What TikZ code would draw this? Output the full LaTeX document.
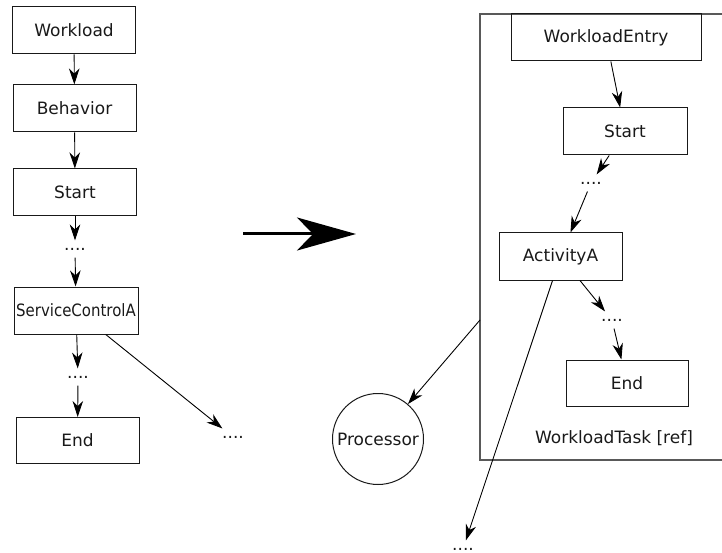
\documentclass[tikz,border=0pt]{standalone}
\usepackage{fontspec}
\setmainfont{DejaVu Sans}
\usetikzlibrary{arrows.meta}
\begin{document}
\begin{tikzpicture}[x=1pt,y=-1pt,
  every node/.style={font=\fontsize{17}{20}\selectfont,text=black!90},
  box/.style={draw=black!90,line width=1pt,minimum width=#1,minimum height=47pt,inner sep=0pt},
  box/.default=123pt,
  dots/.style={inner sep=0pt,outer sep=7.5pt},
  conn/.style={line width=0.9pt,-{Stealth[length=16pt,width=10.5pt,inset=5pt]}},
  frame/.style={draw=black!65,line width=1.3pt}]
\useasboundingbox (0,0) rectangle (722,553);

% left-hand chain
\node[box] (wl) at (74,30.5) {Workload};
\node[box] (beh) at (74.5,108.5) {Behavior};
\node[box] (st) at (75,192.5) {Start};
\node[dots] (d1) at (75,249) {....};
\node[box=124pt] (sc) at (76,310.5) {\scalebox{0.88}[1]{ServiceControlA}};
\node[dots] (d2) at (78,377) {....};
\node[box,minimum height=46pt] (en) at (77.5,440.5) {End};
\node[dots] (d3) at (233,437) {....};

\draw[conn] (wl) -- (beh);
\draw[conn] (beh) -- (st);
\draw[conn] (st) -- (d1);
\draw[conn] (d1) -- (sc);
\draw[conn] (sc) -- (d2);
\draw[conn] (d2) -- (en);
\draw[conn] (sc) -- (d3);

% transformation arrow
\coordinate (ta) at (243,234);
\coordinate (tb) at (356,234);
\draw[line width=3pt,-{Stealth[length=59pt,width=33pt,inset=16pt]}] (ta) -- (tb);

% task frame and its contents
\draw[frame] (730,14) -- (480,14) -- (480,460) -- (730,460);
\node[box=190pt] (we) at (606,37.5) {WorkloadEntry};
\node[box=124pt] (rs) at (625,131.5) {Start};
\node[dots] (rd1) at (591,183) {....};
\node[box] (ra) at (560.5,256.5) {ActivityA};
\node[dots] (rd2) at (612,320) {....};
\node[box=122pt,minimum height=46pt] (ren) at (627,383) {End};
\node (lbl) at (614,438) {WorkloadTask [ref]};

\draw[conn] (we) -- (rs);
\draw[conn] (rs) -- (rd1);
\draw[conn] (rd1) -- (ra);
\draw[conn] (ra) -- (rd2);
\draw[conn] (rd2) -- (ren);

% processor and outgoing links
\node[draw=black!90,line width=1pt,circle,minimum size=91pt,inner sep=0pt] (proc) at (378,439) {Processor};
\coordinate (tap) at (480,320);
\draw[conn] (tap) -- (proc);
\node[dots] (rd3) at (463,549) {....};
\draw[conn] (ra) -- (rd3);
\end{tikzpicture}
\end{document}
